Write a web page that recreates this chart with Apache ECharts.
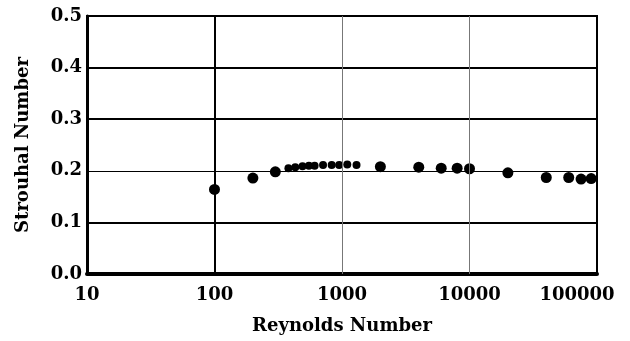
<!DOCTYPE html>
<html>
<head>
<meta charset="utf-8">
<script src="https://cdn.jsdelivr.net/npm/echarts@6/dist/echarts.min.js"></script>
<style>
  html, body { margin: 0; padding: 0; background: #fff; }
  #chart { width: 630px; height: 341px; }
</style>
</head>
<body>
<div id="chart"></div>
<script>
// Strouhal number vs Reynolds number
const reOpen = [100, 200, 300, 2000, 4000, 6000, 8000, 10000, 20000, 40000, 60000, 75000, 90000]
const stOpen = [0.164, 0.186, 0.198, 0.208, 0.207, 0.205, 0.205, 0.204, 0.196, 0.187, 0.187, 0.184, 0.185]
// the tightly packed points between 400 and 1300
const reDense = [380, 430, 490, 550, 610, 710, 830, 950, 1100, 1300]
const stDense = [0.205, 0.207, 0.209, 0.210, 0.210, 0.211, 0.211, 0.211, 0.212, 0.211]

const xTicks = [10, 100, 1000, 10000, 100000]
const yTicks = [0, 0.1, 0.2, 0.3, 0.4, 0.5]

const font = 'DejaVu Serif'
const chart = echarts.init(document.getElementById('chart'))

const toPairs = (xs, ys) => xs.map((x, i) => [x, ys[i]])
const xMax = xTicks[xTicks.length - 1]

const option = {
  animation: false,
  backgroundColor: '#fff',
  grid: {
    left: 87,
    right: 33,
    top: 16,
    bottom: 67,
    containLabel: false,
    outerBoundsMode: 'none',
    show: true,
    borderColor: '#000',
    borderWidth: 2
  },
  xAxis: {
    type: 'log',
    logBase: 10,
    min: xTicks[0],
    max: xMax,
    name: 'Reynolds Number',
    nameLocation: 'middle',
    nameGap: 43,
    nameTextStyle: { fontFamily: font, fontWeight: 'bold', fontSize: 18, color: '#000' },
    axisLine: { lineStyle: { color: '#000', width: 4 } },
    axisTick: { show: false },
    splitLine: { show: false },
    axisLabel: {
      margin: 12,
      fontFamily: font,
      fontWeight: 'bold',
      fontSize: 18,
      color: '#000',
      // the last label sits a bit left of its tick so it stays inside the page
      formatter: (v) => Math.round(v) === xMax ? `{last|${Math.round(v)}}` : String(Math.round(v)),
      rich: {
        last: {
          fontFamily: font,
          fontWeight: 'bold',
          fontSize: 18,
          color: '#000',
          padding: [0, 40, 0, 0]
        }
      }
    }
  },
  yAxis: {
    type: 'value',
    min: 0,
    max: 0.5,
    interval: 0.1,
    name: 'Strouhal Number',
    nameLocation: 'middle',
    nameGap: 55,
    nameTextStyle: { fontFamily: font, fontWeight: 'bold', fontSize: 18, color: '#000' },
    axisLine: { show: true, lineStyle: { color: '#000', width: 3 } },
    axisTick: { show: false },
    splitLine: { show: false },
    axisLabel: {
      margin: 5,
      fontFamily: font,
      fontWeight: 'bold',
      fontSize: 18,
      color: '#000',
      formatter: (v) => v.toFixed(1)
    }
  },
  series: [
    {
      // grid lines, drawn as mark lines so each one can have its own weight
      type: 'scatter',
      data: [],
      silent: true,
      markLine: {
        silent: true,
        symbol: 'none',
        label: { show: false },
        data: [
          ...yTicks.slice(1, -1).map((v) => ({
            yAxis: v,
            lineStyle: { color: '#000', width: v === 0.2 ? 1 : 2, type: 'solid' }
          })),
          ...xTicks.slice(1, -1).map((v) => ({
            xAxis: v,
            lineStyle: { color: v === 100 ? '#000' : '#777', width: v === 100 ? 2 : 1, type: 'solid' }
          }))
        ]
      }
    },
    {
      type: 'scatter',
      symbol: 'circle',
      symbolSize: 11,
      itemStyle: { color: '#000', opacity: 1 },
      data: toPairs(reOpen, stOpen)
    },
    {
      type: 'scatter',
      symbol: 'circle',
      symbolSize: 8,
      itemStyle: { color: '#000', opacity: 1 },
      data: toPairs(reDense, stDense)
    }
  ]
}

option && chart.setOption(option)
</script>
</body>
</html>
